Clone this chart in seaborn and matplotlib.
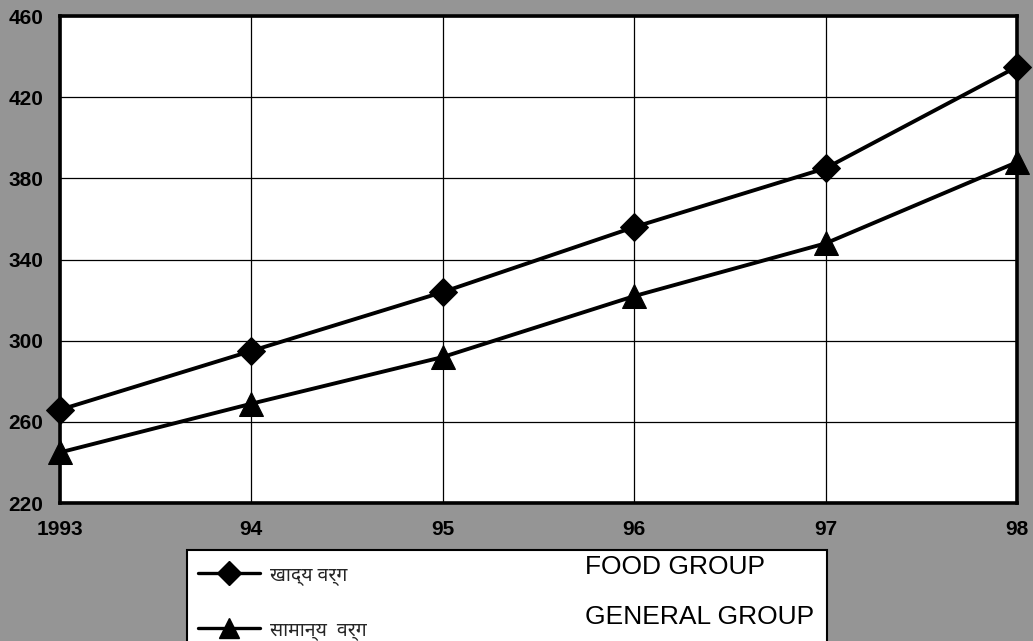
import matplotlib
matplotlib.use("Agg")
import matplotlib.pyplot as plt
from matplotlib.patches import Rectangle
from matplotlib.lines import Line2D
import seaborn as sns
import pandas as pd

# Price index by year
years = ["1993", "94", "95", "96", "97", "98"]
food_group = [266, 295, 324, 356, 385, 435]
general_group = [245, 269, 292, 322, 348, 388]
y_ticks = [220, 260, 300, 340, 380, 420, 460]
label_hi = ["खाद्य वर्ग", "सामान्य  वर्ग"]
label_en = ["FOOD GROUP", "GENERAL GROUP"]

df = pd.DataFrame({
    "year": years * 2,
    "index": food_group + general_group,
    "group": [label_hi[0]] * len(years) + [label_hi[1]] * len(years),
})

sns.set_theme(style="white")
plt.rcParams["font.family"] = ["Liberation Sans", "DejaVu Sans"]

bg = "#959595"
fig = plt.figure(figsize=(10.33, 6.41), dpi=100, facecolor=bg)
ax = fig.add_axes([0.058, 0.215, 0.9265, 0.76])
ax.set_facecolor("white")

sns.lineplot(
    data=df, x="year", y="index", hue="group", style="group",
    palette=["black", "black"], markers={label_hi[0]: "D", label_hi[1]: "^"},
    dashes=False, linewidth=2.8, markersize=13, markeredgecolor="black",
    legend=False, ax=ax, sort=False,
)
for line in ax.lines:
    line.set_clip_on(False)
    if line.get_marker() == "D":
        line.set_markersize(14)
    else:
        line.set_markersize(17)

ax.set_xlim(0, len(years) - 1)
ax.set_ylim(y_ticks[0], y_ticks[-1])
ax.set_yticks(y_ticks)
ax.set_xticks(range(len(years)))
ax.set_xticklabels(years)
ax.set_xlabel("")
ax.set_ylabel("")
ax.grid(True, color="black", linewidth=0.9)
ax.set_axisbelow(True)
for s in ax.spines.values():
    s.set_color("black")
    s.set_linewidth(2.6)
ax.tick_params(axis="both", length=0, labelsize=15, colors="black")
ax.tick_params(axis="y", pad=12)
ax.tick_params(axis="x", pad=12)
for t in ax.get_xticklabels() + ax.get_yticklabels():
    t.set_fontweight("heavy")
    t.set_family(["Liberation Sans Narrow", "Liberation Sans", "DejaVu Sans"])

# legend box at the bottom
box = Rectangle((0.181, -0.05), 0.6196, 0.192, transform=fig.transFigure,
                facecolor="white", edgecolor="black", linewidth=1.5, zorder=5)
fig.add_artist(box)
handles = [
    Line2D([], [], color="black", linewidth=2.4, marker="D", markersize=12),
    Line2D([], [], color="black", linewidth=2.4, marker="^", markersize=15),
]
leg = fig.legend(handles, label_hi, loc="upper left", bbox_to_anchor=(0.175, 0.146),
                 frameon=False, handlelength=3.2, handletextpad=0.5,
                 labelspacing=1.8,
                 prop={"family": ["Noto Sans", "DejaVu Sans"], "size": 14})
leg.set_zorder(6)
for i, txt in enumerate(label_en):
    fig.text(0.566, 0.1155 - i * 0.078, txt, fontsize=19, color="black",
             va="center", ha="left", zorder=7)

fig.savefig("out.png", dpi=100, facecolor=bg)
